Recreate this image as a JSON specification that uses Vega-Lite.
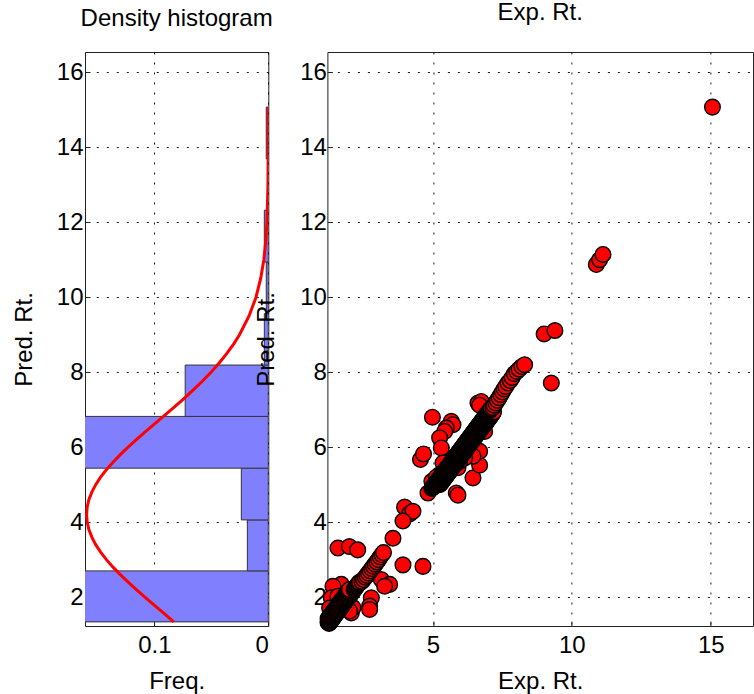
{
  "$schema": "https://vega.github.io/schema/vega-lite/v6.json",
  "background": "white",
  "padding": {"left": 11, "top": 0, "right": 0, "bottom": 0},
  "spacing": 58.4,
  "bounds": "flush",
  "config": {
    "font": "Liberation Sans",
    "view": {"stroke": "#222", "strokeWidth": 1},
    "axis": {"labelFont": "Liberation Sans", "labelFontSize": 24, "labelColor": "#000", "titleFont": "Liberation Sans", "titleFontSize": 24, "titleFontWeight": "normal", "titleColor": "#000", "grid": true, "gridColor": "#000", "gridDash": [2, 8], "gridWidth": 1, "gridOpacity": 0.9, "domain": false, "ticks": true, "tickColor": "#222", "tickSize": -5},
    "axisX": {"labelBaseline": "alphabetic", "labelPadding": 31, "titleBaseline": "alphabetic", "titleY": 62},
    "axisY": {"labelPadding": 7, "titleBaseline": "alphabetic", "titleX": -54, "titleAngle": -90},
    "title": {"font": "Liberation Sans", "fontSize": 24, "fontWeight": "normal", "color": "#000", "baseline": "alphabetic", "frame": "group"}
  },
  "datasets": {
    "hist": [
      {"lo": 1.34, "hi": 2.70, "freq": 0.40},
      {"lo": 2.70, "hi": 4.06, "freq": 0.0184},
      {"lo": 4.06, "hi": 5.44, "freq": 0.0237},
      {"lo": 5.44, "hi": 6.82, "freq": 0.45},
      {"lo": 6.82, "hi": 8.19, "freq": 0.073},
      {"lo": 8.19, "hi": 9.56, "freq": 0.0035},
      {"lo": 9.56, "hi": 10.94, "freq": 0.0018},
      {"lo": 10.94, "hi": 12.32, "freq": 0.0035},
      {"lo": 13.69, "hi": 15.07, "freq": 0.0018}
    ],
    "curve": [
      {"pred": 1.34, "dens": 0.0830}, {"pred": 1.6, "dens": 0.0929}, {"pred": 1.8, "dens": 0.1007}, {"pred": 2.0, "dens": 0.1084},
      {"pred": 2.2, "dens": 0.1159}, {"pred": 2.4, "dens": 0.1231}, {"pred": 2.6, "dens": 0.1300}, {"pred": 2.8, "dens": 0.1364},
      {"pred": 3.0, "dens": 0.1422}, {"pred": 3.2, "dens": 0.1473}, {"pred": 3.4, "dens": 0.1516}, {"pred": 3.6, "dens": 0.1550},
      {"pred": 3.8, "dens": 0.1576}, {"pred": 4.0, "dens": 0.1591}, {"pred": 4.2, "dens": 0.1596}, {"pred": 4.4, "dens": 0.1591},
      {"pred": 4.6, "dens": 0.1576}, {"pred": 4.8, "dens": 0.1550}, {"pred": 5.0, "dens": 0.1516}, {"pred": 5.2, "dens": 0.1473},
      {"pred": 5.4, "dens": 0.1422}, {"pred": 5.6, "dens": 0.1364}, {"pred": 5.8, "dens": 0.1300}, {"pred": 6.0, "dens": 0.1231},
      {"pred": 6.2, "dens": 0.1159}, {"pred": 6.4, "dens": 0.1084}, {"pred": 6.6, "dens": 0.1007}, {"pred": 6.8, "dens": 0.0929},
      {"pred": 7.0, "dens": 0.0852}, {"pred": 7.25, "dens": 0.0758}, {"pred": 7.5, "dens": 0.0668}, {"pred": 7.75, "dens": 0.0582},
      {"pred": 8.0, "dens": 0.0503}, {"pred": 8.25, "dens": 0.0430}, {"pred": 8.5, "dens": 0.0364}, {"pred": 8.75, "dens": 0.0305},
      {"pred": 9.0, "dens": 0.0253}, {"pred": 9.5, "dens": 0.0169}, {"pred": 10.0, "dens": 0.0108}, {"pred": 10.5, "dens": 0.0067},
      {"pred": 11.0, "dens": 0.0039}, {"pred": 11.5, "dens": 0.0022}, {"pred": 12.0, "dens": 0.0012}, {"pred": 13.0, "dens": 0.0003},
      {"pred": 14.0, "dens": 0.0001}, {"pred": 15.07, "dens": 0.0}
    ],
    "pts": [
      {"exp": 15.06, "pred": 15.07}, {"exp": 10.88, "pred": 10.87}, {"exp": 11.0, "pred": 11.0}, {"exp": 11.12, "pred": 11.14},
      {"exp": 9.0, "pred": 9.02}, {"exp": 9.39, "pred": 9.11}, {"exp": 9.26, "pred": 7.71},
      {"exp": 1.58, "pred": 3.31}, {"exp": 1.99, "pred": 3.35}, {"exp": 2.29, "pred": 3.26}, {"exp": 3.56, "pred": 3.57},
      {"exp": 3.92, "pred": 2.86}, {"exp": 4.64, "pred": 2.82}, {"exp": 3.98, "pred": 4.40}, {"exp": 4.16, "pred": 4.22},
      {"exp": 4.28, "pred": 4.29}, {"exp": 3.92, "pred": 4.03}, {"exp": 3.14, "pred": 2.47}, {"exp": 3.44, "pred": 2.34},
      {"exp": 3.26, "pred": 2.29}, {"exp": 2.78, "pred": 1.98}, {"exp": 2.72, "pred": 1.76}, {"exp": 2.72, "pred": 1.67},
      {"exp": 1.94, "pred": 1.67}, {"exp": 2.06, "pred": 1.58}, {"exp": 1.88, "pred": 1.85}, {"exp": 1.52, "pred": 2.2},
      {"exp": 1.70, "pred": 2.34}, {"exp": 1.4, "pred": 2.29}, {"exp": 1.34, "pred": 1.98}, {"exp": 1.28, "pred": 1.71},
      {"exp": 1.58, "pred": 2.02}, {"exp": 2.12, "pred": 1.72}, {"exp": 2.0, "pred": 1.63},
      {"exp": 4.98, "pred": 6.80}, {"exp": 4.55, "pred": 5.67}, {"exp": 4.66, "pred": 5.82}, {"exp": 4.82, "pred": 4.78},
      {"exp": 5.84, "pred": 4.78}, {"exp": 5.9, "pred": 4.72}, {"exp": 6.44, "pred": 5.18}, {"exp": 6.68, "pred": 5.52},
      {"exp": 5.72, "pred": 5.49}, {"exp": 5.9, "pred": 5.45}, {"exp": 5.66, "pred": 6.69}, {"exp": 5.72, "pred": 6.60},
      {"exp": 5.48, "pred": 6.51}, {"exp": 5.42, "pred": 6.42}, {"exp": 5.24, "pred": 6.25}, {"exp": 5.30, "pred": 5.98},
      {"exp": 6.62, "pred": 7.18}, {"exp": 6.92, "pred": 6.65}, {"exp": 7.04, "pred": 6.78}, {"exp": 6.86, "pred": 6.42},
      {"exp": 6.68, "pred": 5.89}, {"exp": 6.32, "pred": 5.80}, {"exp": 6.44, "pred": 5.76}, {"exp": 6.14, "pred": 5.71},
      {"exp": 5.96, "pred": 5.62}, {"exp": 5.36, "pred": 5.58}, {"exp": 5.24, "pred": 5.27}, {"exp": 5.48, "pred": 5.40},
      {"exp": 4.96, "pred": 5.09}, {"exp": 5.12, "pred": 5.2}, {"exp": 6.74, "pred": 7.22}, {"exp": 6.68, "pred": 7.12},
      {"exp": 1.22, "pred": 1.33},
      {"exp": 1.26, "pred": 1.30}, {"exp": 1.285, "pred": 1.325}, {"exp": 1.31, "pred": 1.35}, {"exp": 1.335, "pred": 1.375}, {"exp": 1.36, "pred": 1.40},
      {"exp": 1.225, "pred": 1.425}, {"exp": 1.385, "pred": 1.425}, {"exp": 1.25, "pred": 1.45}, {"exp": 1.41, "pred": 1.45},
      {"exp": 1.275, "pred": 1.475}, {"exp": 1.435, "pred": 1.475}, {"exp": 1.30, "pred": 1.50}, {"exp": 1.46, "pred": 1.50},
      {"exp": 1.325, "pred": 1.525}, {"exp": 1.485, "pred": 1.525}, {"exp": 1.35, "pred": 1.55}, {"exp": 1.51, "pred": 1.55},
      {"exp": 1.375, "pred": 1.575}, {"exp": 1.535, "pred": 1.575}, {"exp": 1.40, "pred": 1.60}, {"exp": 1.56, "pred": 1.60},
      {"exp": 1.425, "pred": 1.625}, {"exp": 1.585, "pred": 1.625}, {"exp": 1.45, "pred": 1.65}, {"exp": 1.61, "pred": 1.65},
      {"exp": 1.475, "pred": 1.675}, {"exp": 1.635, "pred": 1.675}, {"exp": 1.50, "pred": 1.70}, {"exp": 1.66, "pred": 1.70},
      {"exp": 1.525, "pred": 1.725}, {"exp": 1.685, "pred": 1.725}, {"exp": 1.55, "pred": 1.75}, {"exp": 1.71, "pred": 1.75},
      {"exp": 1.575, "pred": 1.775}, {"exp": 1.735, "pred": 1.775}, {"exp": 1.60, "pred": 1.80}, {"exp": 1.76, "pred": 1.80},
      {"exp": 1.625, "pred": 1.825}, {"exp": 1.785, "pred": 1.825}, {"exp": 1.65, "pred": 1.85}, {"exp": 1.81, "pred": 1.85},
      {"exp": 1.675, "pred": 1.875}, {"exp": 1.835, "pred": 1.875}, {"exp": 1.70, "pred": 1.90}, {"exp": 1.86, "pred": 1.90},
      {"exp": 1.725, "pred": 1.925}, {"exp": 1.885, "pred": 1.925}, {"exp": 1.75, "pred": 1.95}, {"exp": 1.91, "pred": 1.95},
      {"exp": 1.775, "pred": 1.975}, {"exp": 1.935, "pred": 1.975}, {"exp": 1.80, "pred": 2.00}, {"exp": 1.96, "pred": 2.00},
      {"exp": 1.825, "pred": 2.025}, {"exp": 1.985, "pred": 2.025}, {"exp": 1.85, "pred": 2.05}, {"exp": 2.01, "pred": 2.05},
      {"exp": 1.875, "pred": 2.075}, {"exp": 2.035, "pred": 2.075}, {"exp": 1.90, "pred": 2.10}, {"exp": 2.06, "pred": 2.10},
      {"exp": 1.925, "pred": 2.125}, {"exp": 2.085, "pred": 2.125}, {"exp": 1.95, "pred": 2.15}, {"exp": 2.11, "pred": 2.15},
      {"exp": 1.975, "pred": 2.175}, {"exp": 2.135, "pred": 2.175}, {"exp": 2.00, "pred": 2.20}, {"exp": 2.16, "pred": 2.20},
      {"exp": 2.185, "pred": 2.225}, {"exp": 2.21, "pred": 2.25}, {"exp": 2.235, "pred": 2.275}, {"exp": 2.26, "pred": 2.30},
      {"exp": 2.285, "pred": 2.325}, {"exp": 2.31, "pred": 2.35}, {"exp": 2.335, "pred": 2.375}, {"exp": 2.36, "pred": 2.40},
      {"exp": 2.44, "pred": 2.42}, {"exp": 2.50, "pred": 2.47}, {"exp": 2.56, "pred": 2.53}, {"exp": 2.62, "pred": 2.58},
      {"exp": 2.68, "pred": 2.64}, {"exp": 2.74, "pred": 2.70}, {"exp": 2.80, "pred": 2.76}, {"exp": 2.86, "pred": 2.82},
      {"exp": 2.92, "pred": 2.88}, {"exp": 2.98, "pred": 2.94}, {"exp": 3.04, "pred": 3.00}, {"exp": 3.10, "pred": 3.07},
      {"exp": 3.16, "pred": 3.13}, {"exp": 3.22, "pred": 3.19},
      {"exp": 4.96, "pred": 4.90}, {"exp": 4.98, "pred": 4.92}, {"exp": 5.00, "pred": 4.94}, {"exp": 5.02, "pred": 4.96}, {"exp": 5.04, "pred": 4.98},
      {"exp": 5.06, "pred": 5.00}, {"exp": 5.24, "pred": 5.00}, {"exp": 5.08, "pred": 5.02}, {"exp": 5.26, "pred": 5.02},
      {"exp": 5.10, "pred": 5.04}, {"exp": 5.28, "pred": 5.04}, {"exp": 5.12, "pred": 5.06}, {"exp": 5.30, "pred": 5.06},
      {"exp": 5.14, "pred": 5.08}, {"exp": 5.32, "pred": 5.08}, {"exp": 5.16, "pred": 5.10}, {"exp": 5.34, "pred": 5.10},
      {"exp": 5.18, "pred": 5.12}, {"exp": 5.36, "pred": 5.12}, {"exp": 5.20, "pred": 5.14}, {"exp": 5.38, "pred": 5.14},
      {"exp": 5.22, "pred": 5.16}, {"exp": 5.40, "pred": 5.16}, {"exp": 5.24, "pred": 5.18}, {"exp": 5.42, "pred": 5.18},
      {"exp": 5.26, "pred": 5.20}, {"exp": 5.44, "pred": 5.20}, {"exp": 5.28, "pred": 5.22}, {"exp": 5.46, "pred": 5.22},
      {"exp": 5.30, "pred": 5.24}, {"exp": 5.48, "pred": 5.24}, {"exp": 5.32, "pred": 5.26}, {"exp": 5.50, "pred": 5.26},
      {"exp": 5.34, "pred": 5.28}, {"exp": 5.52, "pred": 5.28}, {"exp": 5.36, "pred": 5.30}, {"exp": 5.54, "pred": 5.30},
      {"exp": 5.38, "pred": 5.32}, {"exp": 5.56, "pred": 5.32}, {"exp": 5.40, "pred": 5.34}, {"exp": 5.58, "pred": 5.34},
      {"exp": 5.42, "pred": 5.36}, {"exp": 5.60, "pred": 5.36}, {"exp": 5.44, "pred": 5.38}, {"exp": 5.62, "pred": 5.38},
      {"exp": 5.46, "pred": 5.40}, {"exp": 5.64, "pred": 5.40}, {"exp": 5.48, "pred": 5.42}, {"exp": 5.66, "pred": 5.42},
      {"exp": 5.50, "pred": 5.44}, {"exp": 5.68, "pred": 5.44}, {"exp": 5.52, "pred": 5.46}, {"exp": 5.70, "pred": 5.46},
      {"exp": 5.54, "pred": 5.48}, {"exp": 5.72, "pred": 5.48}, {"exp": 5.56, "pred": 5.50}, {"exp": 5.74, "pred": 5.50},
      {"exp": 5.58, "pred": 5.52}, {"exp": 5.76, "pred": 5.52}, {"exp": 5.60, "pred": 5.54}, {"exp": 5.78, "pred": 5.54},
      {"exp": 5.62, "pred": 5.56}, {"exp": 5.80, "pred": 5.56}, {"exp": 5.64, "pred": 5.58}, {"exp": 5.82, "pred": 5.58},
      {"exp": 5.66, "pred": 5.60}, {"exp": 5.84, "pred": 5.60}, {"exp": 5.68, "pred": 5.62}, {"exp": 5.86, "pred": 5.62},
      {"exp": 5.70, "pred": 5.64}, {"exp": 5.88, "pred": 5.64}, {"exp": 5.72, "pred": 5.66}, {"exp": 5.90, "pred": 5.66},
      {"exp": 5.74, "pred": 5.68}, {"exp": 5.92, "pred": 5.68}, {"exp": 5.76, "pred": 5.70}, {"exp": 5.94, "pred": 5.70},
      {"exp": 5.78, "pred": 5.72}, {"exp": 5.96, "pred": 5.72}, {"exp": 5.80, "pred": 5.74}, {"exp": 5.98, "pred": 5.74},
      {"exp": 5.82, "pred": 5.76}, {"exp": 6.00, "pred": 5.76}, {"exp": 5.84, "pred": 5.78}, {"exp": 6.02, "pred": 5.78},
      {"exp": 5.86, "pred": 5.80}, {"exp": 6.04, "pred": 5.80}, {"exp": 5.88, "pred": 5.82}, {"exp": 6.06, "pred": 5.82},
      {"exp": 5.90, "pred": 5.84}, {"exp": 6.08, "pred": 5.84}, {"exp": 5.92, "pred": 5.86}, {"exp": 6.10, "pred": 5.86},
      {"exp": 5.94, "pred": 5.88}, {"exp": 6.12, "pred": 5.88}, {"exp": 5.96, "pred": 5.90}, {"exp": 6.14, "pred": 5.90},
      {"exp": 5.98, "pred": 5.92}, {"exp": 6.16, "pred": 5.92}, {"exp": 6.00, "pred": 5.94}, {"exp": 6.18, "pred": 5.94},
      {"exp": 6.02, "pred": 5.96}, {"exp": 6.20, "pred": 5.96}, {"exp": 6.04, "pred": 5.98}, {"exp": 6.22, "pred": 5.98},
      {"exp": 6.06, "pred": 6.00}, {"exp": 6.24, "pred": 6.00}, {"exp": 6.08, "pred": 6.02}, {"exp": 6.26, "pred": 6.02},
      {"exp": 6.10, "pred": 6.04}, {"exp": 6.28, "pred": 6.04}, {"exp": 6.12, "pred": 6.06}, {"exp": 6.30, "pred": 6.06},
      {"exp": 6.14, "pred": 6.08}, {"exp": 6.32, "pred": 6.08}, {"exp": 6.16, "pred": 6.10}, {"exp": 6.34, "pred": 6.10},
      {"exp": 6.18, "pred": 6.12}, {"exp": 6.36, "pred": 6.12}, {"exp": 6.20, "pred": 6.14}, {"exp": 6.38, "pred": 6.14},
      {"exp": 6.22, "pred": 6.16}, {"exp": 6.40, "pred": 6.16}, {"exp": 6.24, "pred": 6.18}, {"exp": 6.42, "pred": 6.18},
      {"exp": 6.26, "pred": 6.20}, {"exp": 6.44, "pred": 6.20}, {"exp": 6.28, "pred": 6.22}, {"exp": 6.46, "pred": 6.22},
      {"exp": 6.30, "pred": 6.24}, {"exp": 6.48, "pred": 6.24}, {"exp": 6.32, "pred": 6.26}, {"exp": 6.50, "pred": 6.26},
      {"exp": 6.34, "pred": 6.28}, {"exp": 6.52, "pred": 6.28}, {"exp": 6.36, "pred": 6.30}, {"exp": 6.54, "pred": 6.30},
      {"exp": 6.38, "pred": 6.32}, {"exp": 6.56, "pred": 6.32}, {"exp": 6.40, "pred": 6.34}, {"exp": 6.58, "pred": 6.34},
      {"exp": 6.42, "pred": 6.36}, {"exp": 6.60, "pred": 6.36}, {"exp": 6.44, "pred": 6.38}, {"exp": 6.62, "pred": 6.38},
      {"exp": 6.46, "pred": 6.40}, {"exp": 6.64, "pred": 6.40}, {"exp": 6.48, "pred": 6.42}, {"exp": 6.66, "pred": 6.42},
      {"exp": 6.50, "pred": 6.44}, {"exp": 6.68, "pred": 6.44}, {"exp": 6.52, "pred": 6.46}, {"exp": 6.70, "pred": 6.46},
      {"exp": 6.54, "pred": 6.48}, {"exp": 6.72, "pred": 6.48}, {"exp": 6.56, "pred": 6.50}, {"exp": 6.74, "pred": 6.50},
      {"exp": 6.58, "pred": 6.52}, {"exp": 6.76, "pred": 6.52}, {"exp": 6.60, "pred": 6.54}, {"exp": 6.78, "pred": 6.54},
      {"exp": 6.62, "pred": 6.56}, {"exp": 6.80, "pred": 6.56}, {"exp": 6.64, "pred": 6.58}, {"exp": 6.82, "pred": 6.58},
      {"exp": 6.66, "pred": 6.60}, {"exp": 6.84, "pred": 6.60}, {"exp": 6.68, "pred": 6.62}, {"exp": 6.86, "pred": 6.62},
      {"exp": 6.70, "pred": 6.64}, {"exp": 6.88, "pred": 6.64}, {"exp": 6.72, "pred": 6.66}, {"exp": 6.90, "pred": 6.66},
      {"exp": 6.74, "pred": 6.68}, {"exp": 6.92, "pred": 6.68}, {"exp": 6.76, "pred": 6.70}, {"exp": 6.94, "pred": 6.70},
      {"exp": 6.78, "pred": 6.72}, {"exp": 6.96, "pred": 6.72}, {"exp": 6.80, "pred": 6.74}, {"exp": 6.98, "pred": 6.74},
      {"exp": 6.82, "pred": 6.76}, {"exp": 7.00, "pred": 6.76}, {"exp": 6.84, "pred": 6.78}, {"exp": 7.02, "pred": 6.78},
      {"exp": 6.86, "pred": 6.80}, {"exp": 7.04, "pred": 6.80}, {"exp": 6.88, "pred": 6.82}, {"exp": 7.06, "pred": 6.82},
      {"exp": 6.90, "pred": 6.84}, {"exp": 7.08, "pred": 6.84}, {"exp": 6.92, "pred": 6.86}, {"exp": 7.10, "pred": 6.86},
      {"exp": 6.94, "pred": 6.88}, {"exp": 7.12, "pred": 6.88}, {"exp": 6.96, "pred": 6.90}, {"exp": 7.14, "pred": 6.90},
      {"exp": 6.98, "pred": 6.92}, {"exp": 7.16, "pred": 6.92}, {"exp": 7.00, "pred": 6.94}, {"exp": 7.18, "pred": 6.94},
      {"exp": 7.02, "pred": 6.96}, {"exp": 7.04, "pred": 6.98}, {"exp": 7.06, "pred": 7.00}, {"exp": 7.08, "pred": 7.02}, {"exp": 7.10, "pred": 7.04},
      {"exp": 7.16, "pred": 7.06}, {"exp": 7.20, "pred": 7.12}, {"exp": 7.26, "pred": 7.18}, {"exp": 7.32, "pred": 7.25},
      {"exp": 7.38, "pred": 7.32}, {"exp": 7.44, "pred": 7.40}, {"exp": 7.50, "pred": 7.47}, {"exp": 7.56, "pred": 7.55},
      {"exp": 7.62, "pred": 7.62}, {"exp": 7.70, "pred": 7.71}, {"exp": 7.78, "pred": 7.78}, {"exp": 7.85, "pred": 7.86},
      {"exp": 7.93, "pred": 7.96}, {"exp": 8.02, "pred": 8.02}, {"exp": 8.10, "pred": 8.08}, {"exp": 8.20, "pred": 8.15},
      {"exp": 8.30, "pred": 8.20}
    ]
  },
  "hconcat": [
    {
      "width": 183.3,
      "height": 574,
      "title": {"text": "Density histogram", "offset": 21},
      "layer": [
        {
          "data": {"name": "hist"},
          "mark": {"type": "rect", "fill": "#8080ff", "stroke": "#333", "strokeWidth": 1, "clip": true},
          "encoding": {
            "x": {"field": "freq", "type": "quantitative", "scale": {"domain": [0, 0.161], "reverse": true, "nice": false, "zero": false}, "axis": {"values": [0, 0.1], "format": ".1~f", "title": "Freq."}},
            "x2": {"datum": 0},
            "y": {"field": "lo", "type": "quantitative", "scale": {"domain": [1.23, 16.54], "nice": false, "zero": false}, "axis": {"values": [2, 4, 6, 8, 10, 12, 14, 16], "title": "Pred. Rt."}},
            "y2": {"field": "hi"}
          }
        },
        {
          "data": {"name": "curve"},
          "mark": {"type": "line", "color": "#ff0000", "strokeWidth": 3, "clip": true},
          "encoding": {
            "x": {"field": "dens", "type": "quantitative", "axis": {"values": [0, 0.1], "format": ".1~f", "title": "Freq."}},
            "y": {"field": "pred", "type": "quantitative", "axis": {"values": [2, 4, 6, 8, 10, 12, 14, 16], "title": "Pred. Rt."}},
            "order": {"field": "pred", "type": "quantitative"}
          }
        }
      ]
    },
    {
      "width": 425.6,
      "height": 574,
      "title": {"text": "Exp. Rt.", "offset": 27},
      "data": {"name": "pts"},
      "mark": {"type": "circle", "fill": "#ff0000", "stroke": "#000", "strokeWidth": 1.4, "size": 245, "opacity": 1, "fillOpacity": 1},
      "encoding": {
        "x": {"field": "exp", "type": "quantitative", "scale": {"domain": [1.2, 16.52], "nice": false, "zero": false}, "axis": {"values": [5, 10, 15], "title": "Exp. Rt."}},
        "y": {"field": "pred", "type": "quantitative", "scale": {"domain": [1.23, 16.54], "nice": false, "zero": false}, "axis": {"values": [2, 4, 6, 8, 10, 12, 14, 16], "title": "Pred. Rt.", "labelPadding": 6}}
      }
    }
  ]
}
